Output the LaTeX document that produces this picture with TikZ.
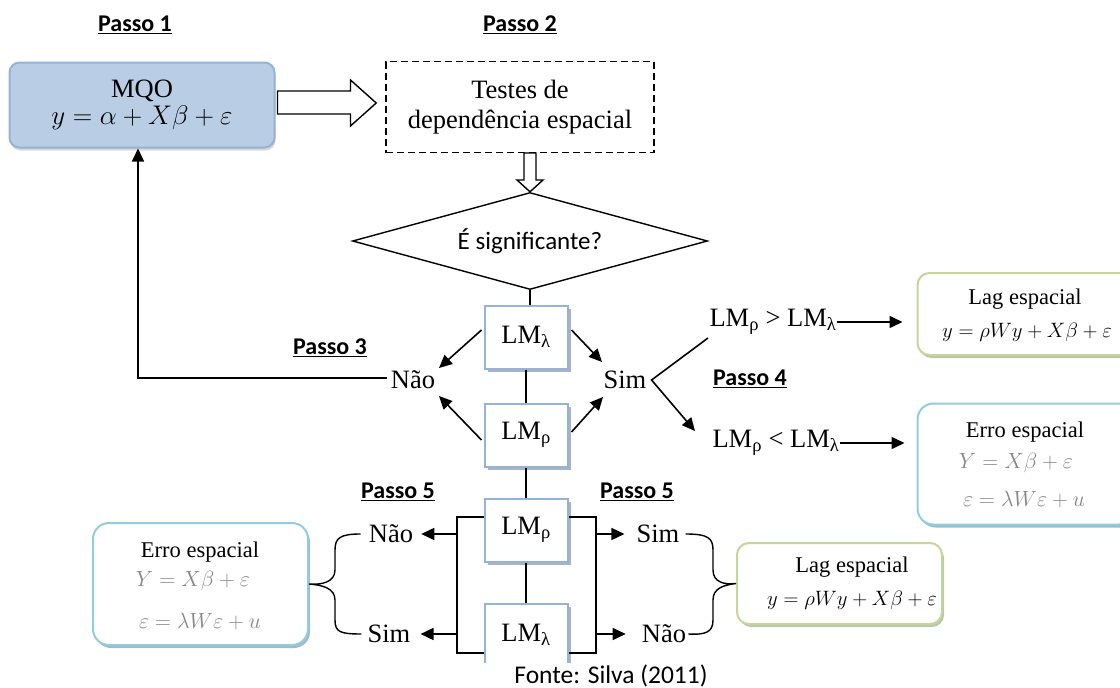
\RequirePackage{fix-cm}
\documentclass[tikz,border=0pt]{standalone}
\usepackage{fontspec}
\setmainfont{Liberation Serif}
\newfontfamily\calib{Carlito}
\usetikzlibrary{arrows.meta,shapes.geometric,shadows,calc}
\definecolor{mqofill}{RGB}{185,205,229}
\definecolor{mqoborder}{RGB}{149,179,215}
\definecolor{lmblue}{RGB}{149,179,215}
\definecolor{lmshadow}{RGB}{150,160,180}
\definecolor{laggreen}{RGB}{195,214,155}
\definecolor{lagshadow}{RGB}{160,175,130}
\definecolor{errblue}{RGB}{146,205,220}
\definecolor{errshadow}{RGB}{120,160,180}
\definecolor{eqgray}{RGB}{135,135,135}
\tikzset{
  big/.style={font=\fontsize{26.5}{30}\selectfont},
  mid/.style={font=\fontsize{22.5}{26}\selectfont},
  lageq/.style={font=\fontsize{20.8}{24}\selectfont},
  grayeq/.style={font=\fontsize{22}{26}\selectfont,text=eqgray},
  passo/.style={font=\calib\bfseries\fontsize{24}{28}\selectfont},
  arr/.style={line width=1.6pt,-{Triangle[length=13pt,width=12pt]}},
  ln/.style={line width=1.4pt},
  lmbox/.style={draw=lmblue,line width=2pt,fill=white,minimum width=83pt,minimum height=63pt,
    inner sep=0pt,big,drop shadow={shadow xshift=3pt,shadow yshift=-3pt,fill=lmshadow,opacity=0.8}},
  lagbox/.style={draw=laggreen,line width=2pt,fill=white,rounded corners=12pt,
    drop shadow={shadow xshift=2pt,shadow yshift=-3pt,fill=lagshadow,opacity=0.7}},
  errbox/.style={draw=errblue,line width=2pt,fill=white,rounded corners=16pt,
    drop shadow={shadow xshift=2pt,shadow yshift=-3pt,fill=errshadow,opacity=0.7}},
  hollow/.style={draw,line width=1.4pt,fill=white},
}
\begin{document}
\begin{tikzpicture}[x=1pt,y=-1pt]
\useasboundingbox (0,0) rectangle (1120,688);
% Passo labels
\node[passo] (p1) at (135,25) {\underline{Passo 1}};
\node[passo] (p2) at (520,25) {\underline{Passo 2}};
\node[passo] (p3) at (330,348) {\underline{Passo 3}};
\node[passo] (p4) at (750,379) {\underline{Passo 4}};
\node[passo] (p5a) at (398,492) {\underline{Passo 5}};
\node[passo] (p5b) at (637,492) {\underline{Passo 5}};
% MQO
\node[draw=mqoborder,fill=mqofill,line width=2pt,rounded corners=10pt,minimum width=265pt,minimum height=85pt,
  align=center,big,drop shadow={shadow xshift=1pt,shadow yshift=-3pt,fill=gray!60}] (mqo) at (142,105)
  {MQO\\[-3pt] {\fontsize{27}{30}\selectfont $y = \alpha + X\beta + \varepsilon$}};
% Testes
\node[draw,dash pattern=on 7pt off 4pt,line width=1.6pt,minimum width=268pt,minimum height=91pt,align=center,big] (testes) at (520,107)
  {Testes de\\ dependência espacial};
% hollow arrow right
\draw[hollow] ($(mqo.east)+(2,-14)$) -- ++(73,0) -- ++(0,-11) -- ($(testes.west)+(-9,-4)$) -- ($(mqo.east)+(75,21)$) -- ++(0,-12) -- ($(mqo.east)+(2,9)$) -- cycle;
% diamond
\node[diamond,draw,line width=1.4pt,minimum width=355pt,minimum height=97pt,inner sep=0pt,aspect=3.66,
  font=\calib\fontsize{25}{29}\selectfont] (sig) at (530,241) {É significante?};
% hollow arrow down
\draw[hollow] (524,153) -- (536,153) -- (536,180) -- (543,180) -- (sig.north) -- (517,180) -- (524,180) -- cycle;
% LM boxes
\node[lmbox] (lm1) at (526,337) {LM\textsubscript{λ}};
\node[lmbox] (lm2) at (526,435) {LM\textsubscript{ρ}};
\node[lmbox] (lm3) at (526,530) {LM\textsubscript{ρ}};
\begin{scope}
\clip (0,0) rectangle (1120,662);
\node[lmbox] (lm4) at (526,635) {LM\textsubscript{λ}};
\end{scope}
\draw[ln] (sig.south) -- (sig.south |- lm1.north);
\draw[ln] (lm1.south) -- (lm2.north);
\draw[ln] (lm2.south) -- (lm3.north);
\draw[ln] (lm3.south) -- (lm4.north);
% Nao / Sim middle
\node[big,inner sep=2pt] (nao1) at (413,380) {Não};
\node[big,inner sep=2pt] (sim1) at (625,380) {Sim};
\draw[arr] ($(lm1.west)+(-2,-7)$) -- (439,368);
\draw[arr] ($(lm2.west)+(-2,5)$) -- (439,396);
\draw[arr] ($(lm1.east)+(3,-7)$) -- (602,362);
\draw[arr] ($(lm2.east)+(3,-3)$) -- (603,397);
% feedback
\coordinate (fb) at (138,378);
\draw[arr] ($(nao1.west)+(-2,-2)$) -- (fb) -- (fb |- mqo.south);
% Passo 4 branch
\node[big,inner sep=0pt] (gt) at (773,322) {LM\textsubscript{ρ} > LM\textsubscript{λ}};
\node[big,inner sep=0pt] (lt) at (776,443) {LM\textsubscript{ρ} < LM\textsubscript{λ}};
\draw[arr] (708,338) -- ($(sim1.east)+(3,0)$) -- (695,431);
\node[lagbox,minimum width=217pt,minimum height=82pt] (lag1) at (1026,314) {};
\node[mid] (lag1t) at (1025,299) {Lag espacial};
\node[lageq] (lag1e) at (1027,332) {$y=\rho Wy+X\beta+\varepsilon$};
\node[errbox,minimum width=217pt,minimum height=121pt] (err1) at (1026,464) {};
\node[mid] (err1t) at (1025,432) {Erro espacial};
\node[grayeq] (err1a) at (1016,463) {$Y=X\beta+\varepsilon$};
\node[grayeq] (err1b) at (1024,500) {$\varepsilon=\lambda W\varepsilon+u$};
\draw[arr] (gt.east) -- ($(lag1.west)+(-14,8)$);
\draw[arr] (lt.east) -- ($(err1.west)+(-12,-21)$);
% bottom left
\coordinate (bl1) at (457,517);
\coordinate (bl2) at (457,653);
\draw[ln] (bl1 -| lm3.west) -- (bl1) -- (bl2) -- (bl2 -| lm4.west);
\node[big,inner sep=2pt] (nao2) at (391,534) {Não};
\node[big,inner sep=2pt] (sim2) at (389,634) {Sim};
\draw[arr] (457,534) -- ($(nao2.east)+(6,0)$);
\draw[arr] (457,634) -- ($(sim2.east)+(8,0)$);
% bottom right
\coordinate (br1) at (596,517);
\coordinate (br2) at (596,653);
\draw[ln] (br1 -| lm3.east) -- (br1) -- (br2) -- (br2 -| lm4.east);
\node[big,inner sep=2pt] (sim3) at (658,534) {Sim};
\node[big,inner sep=2pt] (nao3) at (664,634) {Não};
\draw[arr] (596,534) -- ($(sim3.west)+(-10,0)$);
\draw[arr] (596,634) -- ($(nao3.west)+(-14,0)$);
% left Erro box
\node[errbox,minimum width=215pt,minimum height=122pt] (err2) at (200.5,584) {};
\node[mid] (err2t) at (200,552) {Erro espacial};
\node[grayeq] (err2a) at (193,581) {$Y=X\beta+\varepsilon$};
\node[grayeq] (err2b) at (200,622) {$\varepsilon=\lambda W\varepsilon+u$};
% right Lag box
\node[lagbox,minimum width=205pt,minimum height=81pt] (lag2) at (839.5,583.5) {};
\node[mid] (lag2t) at (852,567) {Lag espacial};
\node[lageq] (lag2e) at (852,600) {$y=\rho Wy+X\beta+\varepsilon$};
% braces
\draw[ln] ($(nao2.west)+(-6,0)$) .. controls (340,534) and (335,538) .. (335,550) -- (335,570)
  .. controls (335,582) and (322,585) .. (err2.east)
  .. controls (322,585) and (335,588) .. (335,600) -- (335,620)
  .. controls (335,632) and (340,634) .. ($(sim2.west)+(-4,0)$);
\draw[ln] ($(sim3.east)+(4,0)$) .. controls (708,534) and (713,538) .. (713,550) -- (713,570)
  .. controls (713,582) and (724,585) .. (lag2.west)
  .. controls (724,585) and (713,588) .. (713,600) -- (713,620)
  .. controls (713,632) and (706,635) .. ($(nao3.east)+(0,0)$);
% source
\node[font=\calib\fontsize{25.5}{29}\selectfont,inner sep=0pt] (src) at (611,676) {Fonte: Silva (2011)};
\end{tikzpicture}
\end{document}
